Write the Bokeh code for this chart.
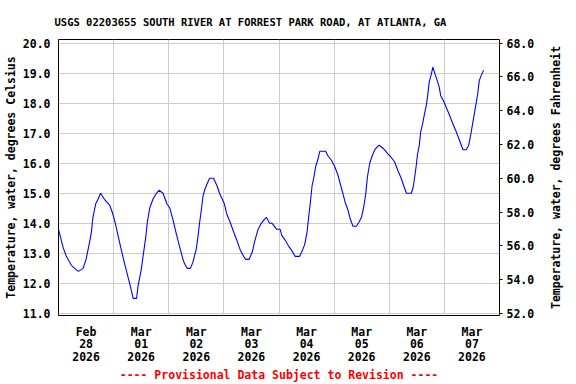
from bokeh.plotting import figure
from bokeh.layouts import row
from bokeh.models import Range1d, LinearAxis, FixedTicker, NumeralTickFormatter
from bokeh.embed import file_html
from bokeh.resources import INLINE

# ---------------- data ----------------
title_text = "USGS 02203655 SOUTH RIVER AT FORREST PARK ROAD, AT ATLANTA, GA"
y_label_c = "Temperature, water, degrees Celsius"
y_label_f = "Temperature, water, degrees Fahrenheit"
footer_text = "---- Provisional Data Subject to Revision ----"

date_labels = ["Feb\n28\n2026", "Mar\n01\n2026", "Mar\n02\n2026", "Mar\n03\n2026",
               "Mar\n04\n2026", "Mar\n05\n2026", "Mar\n06\n2026", "Mar\n07\n2026"]

# hours since 2026-02-28 00:00
hours = [0.0, 2.0, 3.4, 5.6, 7.8, 8.7, 10.7, 12.0, 13.6, 14.3, 15.0, 16.2, 17.2, 18.3,
         20.0, 22.3, 23.7, 24.9, 25.9, 27.4, 28.8, 30.3, 31.3, 32.5, 34.0, 34.6, 36.0,
         37.0, 38.0, 38.7, 39.7, 41.1, 42.6, 43.8, 45.5, 47.2, 48.5, 49.9, 51.3, 52.8,
         54.2, 54.9, 56.0, 57.4, 58.5, 60.0, 60.7, 61.4, 62.2, 62.9, 63.6, 64.6, 65.8,
         67.5, 69.0, 70.1, 72.2, 73.3, 74.9, 76.3, 77.8, 79.2, 80.6, 81.5, 83.0, 84.4,
         85.4, 86.9, 88.3, 89.3, 90.5, 91.9, 93.0, 94.0, 95.0, 96.5, 97.2, 98.6, 100.1,
         101.5, 103.0, 105.0, 106.2, 107.2, 108.2, 108.9, 109.6, 110.4, 111.1, 112.0,
         113.0, 113.8, 116.3, 117.3, 118.8, 120.2, 121.7, 122.7, 123.8, 125.0, 126.0,
         127.0, 128.2, 129.7, 130.9, 131.9, 132.9, 133.8, 134.5, 135.5, 136.6, 137.7,
         139.6, 141.3, 143.5, 144.8, 146.3, 147.8, 149.2, 150.3, 151.5, 153.6, 154.4,
         155.1, 155.8, 156.3, 157.0, 157.7, 158.5, 159.5, 160.2, 160.8, 161.4, 162.1,
         163.0, 163.8, 164.9, 165.7, 166.4, 167.5, 168.6, 170.0, 171.5, 172.9, 173.9,
         174.9, 176.1, 177.5, 178.6, 179.6, 180.6, 181.5, 182.5, 183.2, 183.9, 185.1]

temp_c = [13.8, 13.2, 12.9, 12.6, 12.45, 12.4, 12.5, 12.8, 13.4, 13.7, 14.2, 14.65, 14.8, 15.0,
          14.8, 14.6, 14.3, 13.95, 13.6, 13.1, 12.65, 12.2, 11.9, 11.5, 11.5, 11.9, 12.45,
          13.0, 13.55, 14.05, 14.5, 14.8, 15.0, 15.1, 15.0, 14.65, 14.5, 14.1, 13.65, 13.2,
          12.8, 12.65, 12.5, 12.5, 12.7, 13.15, 13.55, 14.0, 14.45, 14.9, 15.1, 15.3, 15.5,
          15.5, 15.25, 15.0, 14.65, 14.3, 14.0, 13.7, 13.4, 13.1, 12.9, 12.8, 12.8, 13.05,
          13.4, 13.8, 14.0, 14.1, 14.2, 14.0, 14.0, 13.9, 13.8, 13.8, 13.6, 13.45, 13.25,
          13.1, 12.9, 12.9, 13.1, 13.3, 13.7, 14.2, 14.65, 15.25, 15.5, 15.9,
          16.15, 16.4, 16.4, 16.25, 16.1, 15.9, 15.6, 15.3, 15.0, 14.65, 14.45,
          14.15, 13.9, 13.9, 14.05, 14.2, 14.55, 15.0, 15.55, 16.0, 16.25, 16.45,
          16.6, 16.5, 16.3, 16.2, 16.05, 15.75, 15.5, 15.25, 15.0, 15.0, 15.2,
          15.55, 15.95, 16.3, 16.55, 17.05, 17.3, 17.7, 17.95, 18.3, 18.7, 18.9,
          19.2, 19.0, 18.75, 18.55, 18.25, 18.1, 17.9, 17.65, 17.35, 17.1, 16.9,
          16.7, 16.45, 16.45, 16.6, 17.0, 17.45, 17.85, 18.3, 18.75, 18.9, 19.1]

c_ticks = [11, 12, 13, 14, 15, 16, 17, 18, 19, 20]
f_ticks = [52, 54, 56, 58, 60, 62, 64, 66, 68]

# ---------------- style ----------------
FONT = "DejaVu Sans Mono"
FS = "11.5px"
GRID = "#cccccc"
c_lo, c_hi = 10.93, 20.12
f_lo, f_hi = 52 + (c_lo - 11) * 16 / 9, 52 + (c_hi - 11) * 16 / 9
n_days = len(date_labels)

MAIN_W, SIDE_W, H = 544, 32, 384
B_TOP, B_BOTTOM = 39, 69

p = figure(width=MAIN_W, height=H, output_backend="svg", toolbar_location=None,
           x_range=Range1d(0, 24 * n_days), y_range=Range1d(c_lo, c_hi),
           min_border_left=58, min_border_right=MAIN_W - 499, min_border_top=B_TOP,
           min_border_bottom=B_BOTTOM)

p.line(hours, temp_c, line_color="#0000ff", line_width=1.1)

p.outline_line_color = "black"
p.outline_line_width = 1


def style_axis(ax):
    ax.major_label_text_font = FONT
    ax.major_label_text_font_style = "bold"
    ax.major_label_text_font_size = FS
    ax.major_label_text_color = "black"
    ax.axis_label_text_font = FONT
    ax.axis_label_text_font_style = "bold"
    ax.axis_label_text_font_size = FS
    ax.axis_label_text_color = "black"
    ax.minor_tick_line_color = None


# title
p.title.text = title_text
p.title.align = "left"
p.title.offset = -4
p.title.text_font = FONT
p.title.text_font_style = "bold"
p.title.text_font_size = "10.5px"
p.title.text_color = "black"
p.title.standoff = 23

# left axis
ly = p.yaxis[0]
style_axis(ly)
ly.ticker = FixedTicker(ticks=c_ticks)
ly.formatter = NumeralTickFormatter(format="0.0")
ly.axis_label = y_label_c
ly.axis_line_color = None
ly.major_tick_line_color = None
ly.major_tick_in = 0
ly.major_tick_out = 0
ly.major_label_standoff = 8
ly.axis_label_standoff = 2

# right axis (Fahrenheit) ticks and labels
p.extra_y_ranges = {"F": Range1d(f_lo, f_hi)}
ry = LinearAxis(y_range_name="F", ticker=FixedTicker(ticks=f_ticks),
                formatter=NumeralTickFormatter(format="0.0"))
style_axis(ry)
ry.axis_line_color = None
ry.major_tick_in = 0
ry.major_tick_out = 3
ry.major_tick_line_color = "black"
ry.major_label_standoff = 4
p.add_layout(ry, "right")

# bottom axis: date labels at noon, gridlines at midnight
bx = p.xaxis[0]
style_axis(bx)
label_pos = [12 + 24 * i for i in range(n_days)]
bx.ticker = FixedTicker(ticks=label_pos)
bx.major_label_overrides = {pos: lab for pos, lab in zip(label_pos, date_labels)}
bx.axis_line_color = None
bx.major_tick_line_color = None
bx.major_tick_in = 0
bx.major_tick_out = 0
bx.major_label_standoff = 9
bx.major_label_text_line_height = 0.9
bx.axis_label = footer_text
bx.axis_label_standoff = 1
bx.axis_label_text_color = "red"

# grids
p.xgrid.ticker = FixedTicker(ticks=[24 * i for i in range(n_days + 1)])
p.xgrid.grid_line_color = GRID
p.ygrid.grid_line_color = GRID
p.ygrid.ticker = FixedTicker(ticks=c_ticks)

# narrow side strip holding the Fahrenheit axis title, read bottom-to-top
side = figure(width=SIDE_W, height=H, output_backend="svg", toolbar_location=None,
              x_range=Range1d(0, 1), y_range=Range1d(f_lo, f_hi),
              min_border_left=18, min_border_right=0, min_border_top=B_TOP,
              min_border_bottom=B_BOTTOM)
side.outline_line_color = None
side.grid.visible = False
side.xaxis.visible = False
sy = side.yaxis[0]
style_axis(sy)
sy.ticker = FixedTicker(ticks=[])
sy.axis_label = y_label_f
sy.axis_line_color = None
sy.major_tick_line_color = None
sy.major_tick_in = 0
sy.major_tick_out = 0
sy.major_label_standoff = 0
sy.axis_label_standoff = 0

layout = row(p, side)
open("out.html", "w").write(file_html(layout, INLINE))
